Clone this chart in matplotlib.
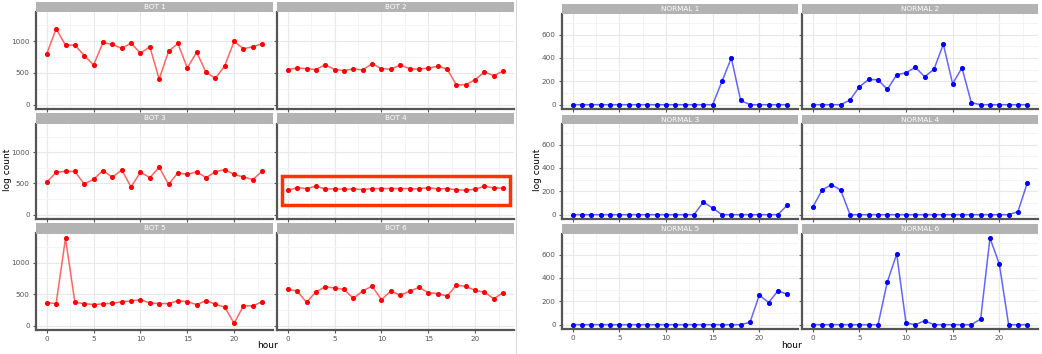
import numpy as np
import matplotlib.pyplot as plt
from matplotlib.patches import Rectangle
from matplotlib.ticker import MultipleLocator

hours = list(range(24))

bot_names = ['BOT 1', 'BOT 2', 'BOT 3', 'BOT 4', 'BOT 5', 'BOT 6']
bot1 = [799, 1196, 938, 938, 773, 624, 979, 948, 887, 969, 809, 912,
        402, 840, 964, 577, 825, 510, 412, 613, 995, 881, 912, 959]
bot2 = [552, 577, 567, 552, 629, 552, 536, 562, 546, 644, 567, 557,
        624, 567, 557, 577, 603, 562, 309, 314, 392, 515, 454, 531]
bot3 = [521, 675, 696, 691, 490, 567, 706, 598, 716, 443, 680, 593,
        758, 485, 670, 644, 686, 593, 686, 722, 644, 603, 562, 696]
bot4 = [387, 433, 418, 454, 412, 412, 407, 412, 402, 418, 418, 418,
        418, 418, 412, 433, 412, 418, 397, 392, 407, 454, 428, 423]
bot5 = [364, 349, 1385, 369, 349, 333, 344, 354, 379, 390, 410, 359,
        349, 349, 395, 379, 333, 395, 338, 292, 36, 313, 313, 379]
bot6 = [574, 549, 369, 533, 615, 595, 574, 431, 549, 626, 410, 549,
        482, 544, 605, 523, 508, 467, 641, 621, 559, 528, 426, 523]

normal_names = ['NORMAL 1', 'NORMAL 2', 'NORMAL 3', 'NORMAL 4', 'NORMAL 5', 'NORMAL 6']
normal1 = [0, 0, 0, 0, 0, 0, 0, 0, 0, 0, 0, 0,
           0, 0, 0, 0, 200, 400, 37, 0, 0, 0, 0, 0]
normal2 = [0, 0, 0, 0, 40, 154, 216, 213, 131, 256, 273, 321,
           239, 304, 518, 179, 316, 17, 0, 0, 0, 0, 0, 0]
normal3 = [0, 0, 0, 0, 0, 0, 0, 0, 0, 0, 0, 0,
           0, 0, 108, 57, 0, 0, 0, 0, 0, 0, 0, 82]
normal4 = [65, 210, 258, 210, 0, 0, 0, 0, 0, 0, 0, 0,
           0, 0, 0, 0, 0, 0, 0, 0, 0, 0, 26, 272]
normal5 = [0, 0, 0, 0, 0, 0, 0, 0, 0, 0, 0, 0,
           0, 0, 0, 0, 0, 0, 0, 20, 253, 190, 290, 261]
normal6 = [0, 0, 0, 0, 0, 0, 0, 0, 367, 606, 14, 0,
           34, 0, 0, 0, 0, 0, 48, 742, 521, 0, 0, 0]

W, H = 1042, 354
fig = plt.figure(figsize=(W / 100, H / 100), dpi=100)


def px_axes(x0, y0, x1, y1):
    # pixel box (top-left origin) -> figure axes
    return fig.add_axes([x0 / W, 1 - y1 / H, (x1 - x0) / W, (y1 - y0) / H])


def facet_grid(names, series, color, cols, rows, ylim, ymajor, yminor, label_x, hour_x):
    axes = []
    for i, (name, vals) in enumerate(zip(names, series)):
        r, c = divmod(i, 2)
        x0, x1 = cols[c]
        s0, p0, p1 = rows[r]
        ax = px_axes(x0, p0, x1, p1)
        ax.plot(hours, vals, color=color, alpha=0.6, lw=1.1, zorder=3)
        ax.scatter(hours, vals, color=color, s=7, zorder=4)
        ax.set_xlim(-1.15, 24.15)
        ax.set_ylim(*ylim)
        ax.xaxis.set_major_locator(MultipleLocator(5))
        ax.xaxis.set_minor_locator(MultipleLocator(2.5))
        ax.yaxis.set_major_locator(MultipleLocator(ymajor))
        ax.yaxis.set_minor_locator(MultipleLocator(yminor))
        ax.grid(which='major', color='#e8e8e8', lw=0.8)
        ax.grid(which='minor', color='#f3f3f3', lw=0.6)
        ax.set_axisbelow(True)
        for sp in ['top', 'right']:
            ax.spines[sp].set_visible(False)
        for sp in ['left', 'bottom']:
            ax.spines[sp].set_color('#555555')
            ax.spines[sp].set_linewidth(1.6)
        ax.tick_params(which='major', length=2.5, color='#555555', labelsize=5.2,
                       labelcolor='#555555', pad=2)
        ax.tick_params(which='minor', length=0)
        if c == 1:
            ax.tick_params(labelleft=False)
        if r < 2:
            ax.tick_params(labelbottom=False)
        # strip header
        sax = px_axes(x0, s0, x1, p0)
        sax.set_facecolor('#b3b3b3')
        sax.set_xticks([])
        sax.set_yticks([])
        for sp in sax.spines.values():
            sp.set_visible(False)
        sax.text(0.5, 0.5, name, color='white', fontsize=5.2, ha='center', va='center',
                 transform=sax.transAxes)
        axes.append(ax)
    fig.text(label_x / W, 1 - 170 / H, 'log count', rotation=90, ha='center', va='center',
             fontsize=6.5)
    fig.text(hour_x / W, 1 - 346 / H, 'hour', ha='center', va='center', fontsize=6.5)
    return axes


left_axes = facet_grid(bot_names, [bot1, bot2, bot3, bot4, bot5, bot6], 'red',
                       cols=[(36, 273), (277, 514)],
                       rows=[(2, 12, 109), (113, 123.5, 219), (223, 233.5, 330)],
                       ylim=(-70, 1460), ymajor=500, yminor=250,
                       label_x=7, hour_x=267)

right_axes = facet_grid(normal_names, [normal1, normal2, normal3, normal4, normal5, normal6],
                        'blue',
                        cols=[(562, 798), (802, 1038)],
                        rows=[(4, 14, 109), (115, 124, 219), (224, 234, 329)],
                        ylim=(-37, 777), ymajor=200, yminor=100,
                        label_x=537, hour_x=792)

# highlight box around BOT 4
left_axes[3].add_patch(Rectangle((-0.6, 155), 24.3, 465, fill=False,
                                 edgecolor='#ff3300', lw=2.5, clip_on=False, zorder=5))

# thin border between the two images
fig.add_artist(plt.Line2D([516 / W, 516 / W], [0, 1], color='#d0d0d0', lw=0.6))

fig.savefig('out.png', dpi=100)
